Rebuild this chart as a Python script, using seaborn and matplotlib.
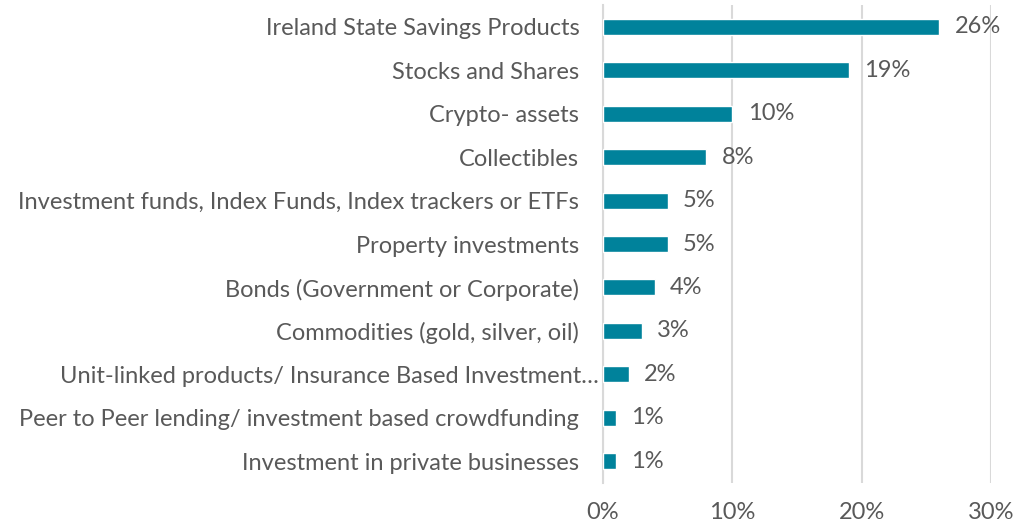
import matplotlib
matplotlib.use("Agg")
import matplotlib.pyplot as plt
import matplotlib.transforms as mtransforms
import seaborn as sns
import pandas as pd

categories = [
    "Ireland State Savings Products",
    "Stocks and Shares",
    "Crypto- assets",
    "Collectibles",
    "Investment funds, Index Funds, Index trackers or ETFs",
    "Property investments",
    "Bonds (Government or Corporate)",
    "Commodities (gold, silver, oil)",
    "Unit-linked products/ Insurance Based Investment\u2026",
    "Peer to Peer lending/ investment based crowdfunding",
    "Investment in private businesses",
]
values = [26, 19, 10, 8, 5, 5, 4, 3, 2, 1, 1]
ticks = [0, 10, 20, 30]

df = pd.DataFrame({"category": categories, "value": values})

sns.set_theme(style="white")
plt.rcParams["font.family"] = ["Lato", "DejaVu Sans"]

text_col = "#595959"
grid_col = "#d9d9d9"
bar_col = "#00829b"
fs = 17

fig = plt.figure(figsize=(10.23, 5.23), dpi=100)
ax = fig.add_axes([0.5894, 0.0765, 0.3793, 0.9139])

sns.barplot(data=df, x="value", y="category", color=bar_col, width=0.37,
            saturation=1, ax=ax, zorder=3)

ax.set_xlim(0, 30)
ax.set_xticks(ticks)
ax.set_xticklabels([f"{t}%" for t in ticks])
ax.xaxis.grid(True, color=grid_col, linewidth=1.5, zorder=0)
ax.set_axisbelow(True)
ax.set_xlabel("")
ax.set_ylabel("")

for s in ["top", "right", "bottom"]:
    ax.spines[s].set_visible(False)
ax.spines["left"].set_color(grid_col)
ax.spines["left"].set_linewidth(1.5)

ax.tick_params(axis="both", length=0, labelsize=fs, labelcolor=text_col)
ax.tick_params(axis="y", pad=17)
ax.tick_params(axis="x", pad=14)

# the truncated label sits closer to the axis, as in the original
for lab in ax.get_yticklabels():
    if lab.get_text().endswith("\u2026"):
        lab.set_transform(lab.get_transform() +
                          mtransforms.ScaledTranslation(19 / 100, 0, fig.dpi_scale_trans))

for i, v in enumerate(values):
    ax.annotate(f"{v}%", xy=(v, i), xytext=(11, 0), textcoords="offset points",
                va="center", ha="left", fontsize=fs, color=text_col)

fig.savefig("out.png", dpi=100)
